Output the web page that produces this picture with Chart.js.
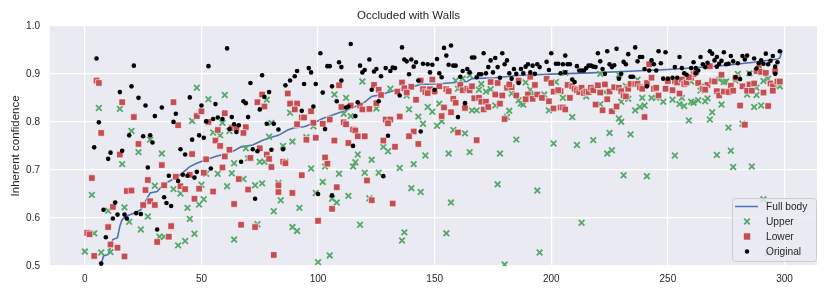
<!DOCTYPE html>
<html>
<head>
<meta charset="utf-8">
<script src="https://cdn.jsdelivr.net/npm/chart.js@4.4.0/dist/chart.umd.min.js"></script>
<style>
	body { margin: 0; background: #fff; }
	canvas { display: block; }
</style>
</head>
<body>
<canvas id="chart" width="830" height="298"></canvas>
<script>
// values, [index, confidence]
const fullBody = [
	[6,0.48],[7,0.504],[8,0.521],[10,0.524],[12,0.555],[14,0.559],[15,0.583],[16,0.597],[18,0.604],[22,0.612],
	[24,0.617],[26,0.635],[28,0.652],[31,0.655],[33,0.666],[36,0.676],[38,0.681],[40,0.686],[45,0.707],[48,0.714],
	[52,0.721],[56,0.728],[60,0.733],[64,0.740],[67,0.748],[72,0.752],[76,0.761],[80,0.768],[83,0.772],[87,0.783],
	[90,0.788],[94,0.790],[98,0.797],[102,0.807],[106,0.814],[112,0.824],[116,0.832],[120,0.841],[123,0.853],[127,0.857],
	[133,0.866],[139,0.871],[144,0.878],[150,0.879],[156,0.881],[164,0.884],[166,0.890],[176,0.892],[187,0.897],[203,0.900],
	[217,0.902],[231,0.905],[250,0.909],[260,0.912],[273,0.917],[287,0.924],[297,0.931],[298,0.933],[299,0.949]
];

const upper = [
	[6,0.829],[15,0.827],[20,0.781],[28,0.763],[23,0.737],[33,0.734],[16,0.712],[30,0.667],[3,0.648],[17,0.622],
	[10,0.615],[19,0.592],[27,0.603],[24,0.576],[4,0.568],[32,0.561],[34,0.561],[0,0.530],[7,0.528],[11,0.529],[38,0.660],
	[48,0.871],[53,0.847],[60,0.856],[78,0.846],[88,0.819],[46,0.802],[59,0.798],[80,0.798],[55,0.778],[58,0.772],
	[62,0.781],[79,0.769],[85,0.750],[89,0.759],[69,0.745],[64,0.714],[70,0.724],[75,0.717],[77,0.717],[86,0.717],
	[52,0.692],[57,0.692],[63,0.693],[68,0.681],[41,0.651],[50,0.669],[61,0.666],[73,0.668],[76,0.672],[83,0.673],
	[51,0.639],[49,0.628],[44,0.621],[84,0.637],[81,0.614],[92,0.621],[45,0.598],[74,0.587],[89,0.581],[91,0.573],
	[47,0.567],[43,0.552],[40,0.543],[64,0.555],
	[119,0.884],[107,0.857],[112,0.850],[131,0.869],[111,0.817],[114,0.812],[125,0.828],[138,0.855],[139,0.826],[147,0.831],
	[143,0.811],[149,0.821],[145,0.796],[98,0.791],[95,0.768],[128,0.748],[130,0.739],[117,0.732],[146,0.730],[123,0.721],
	[116,0.716],[115,0.707],[103,0.707],[97,0.703],[141,0.712],[135,0.704],[109,0.692],[120,0.694],[126,0.694],[102,0.675],
	[140,0.662],[144,0.654],[99,0.652],[113,0.646],[106,0.640],[108,0.632],[122,0.641],[118,0.586],[137,0.570],[136,0.553],
	[105,0.522],[100,0.508],
	[159,0.886],[162,0.890],[165,0.897],[170,0.879],[169,0.867],[172,0.863],[174,0.868],[160,0.869],[183,0.859],[189,0.882],
	[191,0.867],[192,0.857],[197,0.857],[202,0.883],[186,0.845],[187,0.838],[188,0.836],[152,0.838],[176,0.834],[166,0.824],
	[168,0.824],[182,0.823],[199,0.824],[153,0.801],[151,0.792],[181,0.810],[158,0.783],[163,0.776],[185,0.763],[201,0.755],
	[156,0.734],[165,0.737],[178,0.734],[177,0.670],[194,0.657],[157,0.632],[155,0.568],[195,0.528],[180,0.503],
	[206,0.902],[205,0.850],[215,0.853],[221,0.837],[223,0.862],[221,0.900],[229,0.898],[232,0.875],[230,0.842],[233,0.848],
	[237,0.888],[239,0.850],[236,0.824],[238,0.831],[240,0.834],[243,0.850],[245,0.850],[248,0.842],[252,0.846],[255,0.837],
	[257,0.833],[256,0.850],[260,0.842],[259,0.803],[209,0.810],[229,0.807],[230,0.800],[225,0.777],[234,0.774],[218,0.762],
	[211,0.752],[226,0.741],[224,0.734],[253,0.730],[231,0.689],[241,0.687],[213,0.590],
	[280,0.900],[285,0.901],[272,0.888],[274,0.883],[275,0.884],[279,0.886],[265,0.876],[264,0.865],[284,0.857],[288,0.871],
	[288,0.856],[293,0.890],[291,0.885],[296,0.875],[298,0.874],[260,0.884],[263,0.845],[261,0.840],[267,0.849],[266,0.843],
	[273,0.836],[287,0.831],[290,0.834],[269,0.820],[268,0.805],[276,0.788],[282,0.796],[271,0.731],[277,0.740],[278,0.706],
	[286,0.707],[291,0.639],[293,0.527]
];

const lower = [
	[5,0.886],[6,0.881],[16,0.841],[38,0.841],[21,0.810],[7,0.777],[23,0.754],[15,0.732],[33,0.710],[3,0.683],
	[27,0.679],[34,0.668],[18,0.656],[20,0.657],[26,0.658],[28,0.635],[25,0.627],[30,0.627],[12,0.623],[10,0.581],
	[37,0.583],[1,0.569],[2,0.566],[36,0.561],[31,0.550],[11,0.545],[14,0.538],[4,0.521],[17,0.520],
	[40,0.793],[48,0.812],[50,0.822],[53,0.800],[60,0.818],[76,0.857],[74,0.841],[77,0.832],[87,0.859],[88,0.838],
	[91,0.838],[90,0.826],[93,0.809],[91,0.795],[57,0.783],[63,0.787],[65,0.787],[69,0.789],[68,0.777],[56,0.761],
	[58,0.750],[62,0.742],[46,0.733],[52,0.722],[60,0.728],[75,0.745],[71,0.725],[78,0.732],[79,0.723],[80,0.706],
	[85,0.717],[86,0.714],[59,0.705],[51,0.694],[39,0.686],[45,0.690],[41,0.666],[43,0.660],[49,0.661],[66,0.681],
	[70,0.659],[55,0.655],[83,0.668],[83,0.654],[89,0.652],[93,0.689],[47,0.640],[64,0.629],[67,0.586],[73,0.581],[81,0.523],
	[124,0.877],[136,0.882],[144,0.886],[109,0.876],[126,0.867],[137,0.870],[140,0.873],[134,0.863],[138,0.861],[145,0.868],
	[146,0.862],[148,0.868],[147,0.860],[127,0.856],[142,0.846],[125,0.839],[114,0.834],[110,0.831],[118,0.834],[119,0.826],
	[122,0.827],[97,0.822],[94,0.809],[135,0.811],[129,0.805],[131,0.805],[130,0.797],[105,0.805],[98,0.798],[111,0.799],
	[112,0.795],[102,0.796],[115,0.784],[116,0.782],[141,0.780],[139,0.770],[117,0.770],[120,0.770],[99,0.767],[107,0.761],
	[95,0.763],[113,0.756],[128,0.761],[143,0.754],[133,0.748],[103,0.726],[104,0.713],[121,0.678],[108,0.664],[123,0.637],
	[132,0.630],[106,0.619],[100,0.594],
	[149,0.888],[150,0.863],[152,0.874],[155,0.868],[156,0.864],[161,0.877],[162,0.866],[164,0.869],[165,0.866],[166,0.874],
	[174,0.883],[177,0.881],[181,0.871],[183,0.872],[182,0.878],[186,0.886],[191,0.894],[193,0.877],[198,0.890],[200,0.881],
	[201,0.863],[204,0.864],[176,0.857],[179,0.855],[185,0.855],[190,0.857],[192,0.848],[189,0.847],[194,0.857],[196,0.850],
	[199,0.843],[167,0.849],[169,0.850],[170,0.842],[172,0.842],[158,0.848],[159,0.840],[178,0.838],[154,0.830],[163,0.829],
	[171,0.826],[173,0.831],[201,0.828],[204,0.830],[157,0.820],[153,0.812],[180,0.806],[160,0.778],[168,0.762],
	[242,0.920],[207,0.877],[209,0.874],[210,0.869],[211,0.866],[212,0.862],[213,0.871],[214,0.860],[215,0.863],[216,0.862],
	[217,0.871],[218,0.866],[220,0.876],[221,0.861],[223,0.878],[225,0.863],[227,0.872],[229,0.871],[230,0.864],[231,0.855],
	[232,0.853],[233,0.869],[234,0.879],[236,0.879],[237,0.879],[238,0.872],[239,0.869],[241,0.881],[243,0.892],[244,0.869],
	[245,0.871],[246,0.855],[249,0.869],[250,0.885],[252,0.866],[253,0.885],[254,0.882],[255,0.859],[256,0.888],[257,0.879],
	[258,0.882],[260,0.892],[203,0.866],[208,0.850],[224,0.847],[219,0.836],[222,0.824],[226,0.822],[228,0.832],[205,0.830],
	[206,0.826],[240,0.810],
	[268,0.916],[261,0.899],[262,0.903],[273,0.898],[259,0.893],[289,0.912],[288,0.906],[290,0.904],[292,0.902],[296,0.906],
	[279,0.892],[263,0.881],[267,0.877],[269,0.885],[270,0.884],[277,0.875],[282,0.874],[285,0.878],[287,0.880],[294,0.880],
	[295,0.874],[297,0.884],[298,0.884],[265,0.869],[266,0.867],[271,0.864],[272,0.855],[274,0.863],[276,0.862],[278,0.865],
	[284,0.865],[286,0.865],[291,0.861],[295,0.865],[281,0.834],[293,0.833],[283,0.794]
];

const original = [
	[5,0.932],[21,0.917],[20,0.874],[15,0.862],[23,0.850],[26,0.834],[33,0.830],[30,0.812],[6,0.799],[38,0.800],
	[19,0.772],[25,0.770],[28,0.772],[29,0.757],[4,0.747],[11,0.736],[16,0.740],[10,0.723],[27,0.705],[36,0.688],
	[34,0.643],[35,0.631],[37,0.625],[13,0.632],[8,0.617],[14,0.607],[12,0.599],[17,0.607],[22,0.610],[24,0.608],
	[18,0.599],[31,0.576],[9,0.560],[7,0.505],
	[61,0.953],[53,0.916],[76,0.897],[71,0.881],[45,0.851],[91,0.906],[90,0.895],[88,0.886],[86,0.876],[79,0.862],
	[77,0.852],[68,0.843],[69,0.839],[56,0.837],[50,0.834],[39,0.817],[75,0.826],[93,0.823],[70,0.810],[57,0.809],
	[55,0.806],[63,0.810],[59,0.806],[52,0.801],[64,0.795],[66,0.793],[78,0.796],[81,0.796],[83,0.784],[62,0.785],
	[65,0.779],[49,0.772],[51,0.767],[46,0.763],[85,0.743],[41,0.743],[43,0.732],[74,0.739],[80,0.742],[72,0.743],
	[67,0.717],[54,0.703],[48,0.696],[42,0.690],[44,0.688],[47,0.684],[40,0.677],[73,0.640],
	[114,0.962],[136,0.955],[101,0.943],[122,0.930],[109,0.924],[104,0.916],[105,0.916],[110,0.914],[118,0.917],[137,0.930],
	[138,0.926],[140,0.930],[142,0.924],[141,0.915],[145,0.921],[147,0.920],[149,0.919],[148,0.903],[133,0.912],[132,0.913],
	[131,0.906],[129,0.912],[127,0.895],[125,0.910],[124,0.905],[120,0.908],[119,0.903],[139,0.899],[143,0.886],[97,0.903],
	[96,0.912],[94,0.879],[99,0.879],[110,0.886],[106,0.874],[102,0.861],[108,0.843],[117,0.841],[123,0.867],[126,0.843],
	[113,0.832],[112,0.830],[98,0.832],[116,0.812],[135,0.855],[103,0.785],[115,0.750],[130,0.771],[144,0.780],[128,0.687],
	[100,0.650],[106,0.647],
	[154,0.954],[157,0.959],[155,0.938],[151,0.931],[156,0.919],[158,0.917],[159,0.917],[166,0.934],[167,0.934],[171,0.943],
	[176,0.933],[179,0.943],[174,0.928],[181,0.928],[180,0.920],[200,0.943],[177,0.914],[173,0.914],[164,0.910],[165,0.903],
	[162,0.906],[161,0.894],[152,0.901],[153,0.893],[150,0.867],[169,0.899],[170,0.899],[172,0.901],[168,0.893],[175,0.903],
	[178,0.892],[182,0.901],[184,0.910],[185,0.900],[187,0.910],[188,0.901],[189,0.915],[190,0.920],[192,0.917],[194,0.920],
	[191,0.903],[193,0.900],[195,0.914],[198,0.925],[199,0.908],[202,0.921],[203,0.921],[204,0.901],[183,0.890],[186,0.881],
	[163,0.839],[160,0.810],
	[206,0.938],[205,0.920],[207,0.920],[208,0.920],[206,0.903],[211,0.916],[212,0.907],[213,0.907],[214,0.907],[215,0.912],
	[216,0.917],[217,0.917],[218,0.915],[219,0.914],[220,0.943],[221,0.926],[222,0.910],[223,0.900],[224,0.947],[225,0.920],
	[226,0.914],[227,0.918],[228,0.952],[229,0.890],[230,0.900],[231,0.925],[232,0.920],[233,0.941],[234,0.894],[235,0.894],
	[236,0.955],[237,0.926],[238,0.935],[239,0.935],[240,0.910],[241,0.874],[242,0.907],[243,0.928],[244,0.920],[245,0.907],
	[246,0.947],[247,0.922],[249,0.945],[248,0.890],[250,0.890],[252,0.892],[253,0.914],[254,0.892],[255,0.935],[256,0.912],
	[257,0.901],[258,0.898],[260,0.912],[209,0.888],[210,0.883],
	[264,0.935],[268,0.947],[269,0.942],[271,0.935],[274,0.945],[277,0.937],[282,0.937],[284,0.938],[292,0.942],[295,0.937],
	[298,0.947],[265,0.920],[267,0.923],[270,0.928],[272,0.921],[273,0.927],[275,0.920],[276,0.921],[278,0.926],[280,0.922],
	[283,0.930],[287,0.932],[289,0.922],[290,0.928],[291,0.921],[294,0.927],[297,0.924],[296,0.915],[261,0.924],[262,0.912],
	[263,0.907],[262,0.901],[266,0.914],[271,0.915],[279,0.893],[281,0.889],[285,0.900],[288,0.911],[293,0.920],[296,0.900]
];

const xTicks = [0, 50, 100, 150, 200, 250, 300];
const seriesNames = ["Full body", "Upper", "Lower", "Original"];

const BLUE = "#4C72B0", GREEN = "#55A868", RED = "#C44E52", TEXT = "#262626";

Chart.defaults.font.family = "'Liberation Sans', Arial, sans-serif";
Chart.defaults.color = TEXT;

const toXY = (arr) => arr.map(p => ({x: p[0], y: p[1]}));

// seaborn darkgrid background
const plotBackground =
{
	id: "plotBackground",
	beforeDraw(chart)
	{
		const a = chart.chartArea;
		const ctx = chart.ctx;
		ctx.save();
		ctx.fillStyle = "#EAEAF2";
		ctx.fillRect(a.left, a.top, a.right - a.left, a.bottom - a.top);
		ctx.restore();
	}
};

// legend inside the axes, lower right, like matplotlib
const innerLegend =
{
	id: "innerLegend",
	afterDraw(chart)
	{
		const a = chart.chartArea;
		const ctx = chart.ctx;
		const w = 84, h = 63;
		const x0 = a.right - w - 1, y0 = a.bottom - h - 5;
		ctx.save();
		ctx.beginPath();
		ctx.roundRect(x0 + 0.5, y0 + 0.5, w, h, 3);
		ctx.fillStyle = "rgba(234,234,242,0.8)";
		ctx.fill();
		ctx.strokeStyle = "#CCCCCC";
		ctx.lineWidth = 1;
		ctx.stroke();

		const mx = x0 + 15;
		seriesNames.forEach((name, i) =>
		{
			const cy = y0 + 8.5 + i * 15;
			if (i == 0)
			{
				ctx.strokeStyle = BLUE;
				ctx.lineWidth = 1.5;
				ctx.beginPath();
				ctx.moveTo(x0 + 3, cy);
				ctx.lineTo(x0 + 26, cy);
				ctx.stroke();
			}
			else if (i == 1)
			{
				ctx.strokeStyle = GREEN;
				ctx.lineWidth = 1.8;
				ctx.beginPath();
				ctx.moveTo(mx - 2.8, cy - 2.8); ctx.lineTo(mx + 2.8, cy + 2.8);
				ctx.moveTo(mx - 2.8, cy + 2.8); ctx.lineTo(mx + 2.8, cy - 2.8);
				ctx.stroke();
			}
			else if (i == 2)
			{
				ctx.fillStyle = RED;
				ctx.fillRect(mx - 3.2, cy - 3.2, 6.4, 6.4);
			}
			else
			{
				ctx.fillStyle = "#000";
				ctx.beginPath();
				ctx.arc(mx, cy, 2.2, 0, Math.PI * 2);
				ctx.fill();
			}
			ctx.fillStyle = TEXT;
			ctx.font = "10.2px 'Liberation Sans', Arial, sans-serif";
			ctx.textBaseline = "middle";
			ctx.textAlign = "left";
			ctx.fillText(name, x0 + 34, cy + 0.5);
		});
		ctx.restore();
	}
};

const chart = new Chart(document.getElementById("chart"),
{
	type: "scatter",
	data:
	{
		datasets:
		[
			{
				label: seriesNames[0],
				data: toXY(fullBody),
				showLine: true,
				borderColor: BLUE,
				borderWidth: 1.6,
				pointRadius: 0,
				order: 3,
				clip: 0
			},
			{
				label: seriesNames[1],
				data: toXY(upper),
				pointStyle: "crossRot",
				pointRadius: 4,
				borderColor: GREEN,
				borderWidth: 1.8,
				order: 2,
				clip: 0
			},
			{
				label: seriesNames[2],
				data: toXY(lower),
				pointStyle: "rect",
				pointRadius: 4.6,
				backgroundColor: RED,
				borderColor: "#ffffff",
				borderWidth: 0.6,
				order: 1,
				clip: 0
			},
			{
				label: seriesNames[3],
				data: toXY(original),
				pointStyle: "circle",
				pointRadius: 2.3,
				backgroundColor: "#000000",
				borderWidth: 0,
				order: 0,
				clip: 0
			}
		]
	},
	options:
	{
		responsive: false,
		animation: false,
		devicePixelRatio: 1,
		layout: { padding: { top: 0, right: 13, bottom: 0, left: 0 } },
		plugins:
		{
			legend: { display: false },
			tooltip: { enabled: false },
			title:
			{
				display: true,
				text: "Occluded with Walls",
				color: TEXT,
				font: { size: 11.5, weight: "normal", lineHeight: 1.2 },
				padding: { top: 9, bottom: 3 }
			}
		},
		scales:
		{
			x:
			{
				type: "linear",
				min: -14.95,
				max: 313.95,
				afterBuildTicks: (s) => { s.ticks = xTicks.map(v => ({ value: v })); },
				afterFit: (s) => { s.height = 32; },
				grid: { color: "#ffffff", lineWidth: 1.2, drawTicks: false },
				border: { display: false },
				ticks: { font: { size: 10 }, color: TEXT, padding: 7, maxRotation: 0 }
			},
			y:
			{
				min: 0.5,
				max: 1.0,
				afterFit: (s) => { s.width = 50; },
				grid: { color: "#ffffff", lineWidth: 1.2, drawTicks: false },
				border: { display: false },
				ticks:
				{
					stepSize: 0.1,
					font: { size: 10 },
					color: TEXT,
					padding: 10,
					callback: (v) => v.toFixed(1)
				},
				title:
				{
					display: true,
					text: "Inherent confidence",
					color: TEXT,
					font: { size: 11.5 },
					padding: { top: 9, bottom: 0 }
				}
			}
		}
	},
	plugins: [plotBackground, innerLegend]
});
</script>
</body>
</html>
